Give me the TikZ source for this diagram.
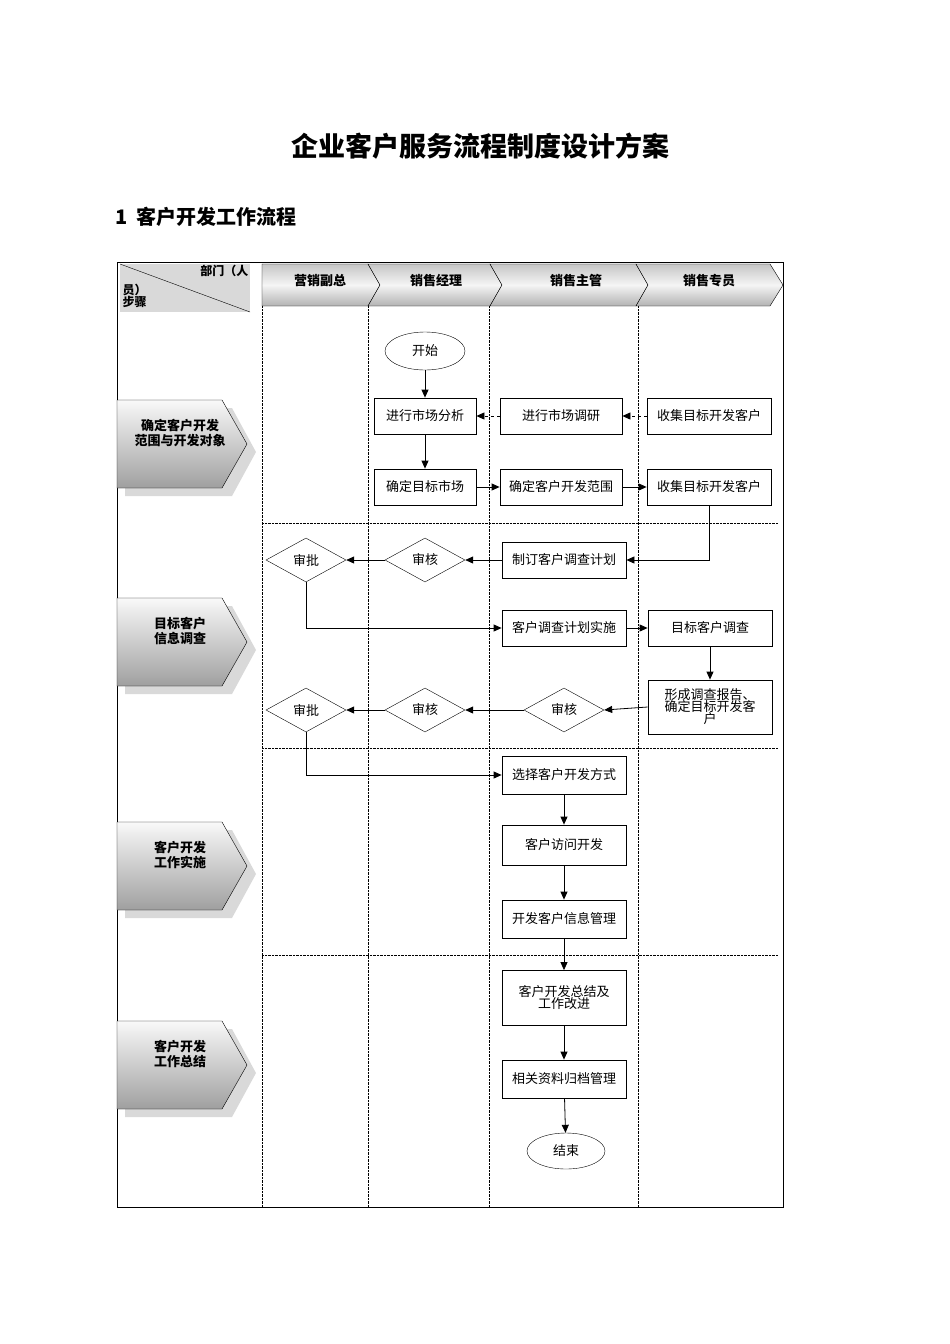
\documentclass[tikz,border=0pt]{standalone}
\usepackage{fontspec}
\setmainfont{Noto Sans CJK SC}
\usetikzlibrary{shapes.geometric,arrows.meta}
\begin{document}
\begin{tikzpicture}[x=1pt,y=-1pt,
  box/.style={draw,thick,minimum width=124pt,minimum height=36pt,inner sep=1pt,font=\fontsize{13}{15}\selectfont,align=center,text width=120pt},
  dia/.style={draw,diamond,aspect=1.8,minimum width=80pt,minimum height=44pt,inner sep=0pt,font=\fontsize{13}{15}\selectfont},
  ell/.style={draw,ellipse,minimum width=80pt,minimum height=38pt,font=\fontsize{13}{15}\selectfont},
  arr/.style={thick,-{Triangle[length=8pt,width=7pt]}},
  dsh/.style={arr,dashed},
  lane/.style={densely dotted,thin},
  hdr/.style={draw,top color=gray!45,bottom color=gray!60,middle color=gray!8},
  stg/.style={draw,top color=gray!5,bottom color=gray!75},
  bf/.style={font=\bfseries\fontsize{13}{15}\selectfont,align=center}]
\useasboundingbox (0,0) rectangle (950,1344);
\node[font=\bfseries\fontsize{27}{30}\selectfont] (title) at (480,146) {企业客户服务流程制度设计方案};
\node[anchor=west,font=\bfseries\fontsize{20}{24}\selectfont] (sec) at (112,217) {1\ \ 客户开发工作流程};
% outer frame
\draw (117,262) rectangle (783,1207);
% corner header
\fill[gray!30] (120,264) rectangle (250,312);
\draw (120,264) -- (250,312);
\node[bf,anchor=north east,font=\bfseries\fontsize{12}{14}\selectfont] (c1) at (252,262) {部门（人};
\node[bf,anchor=north west,align=left,font=\bfseries\fontsize{12}{14}\selectfont] (c2) at (119,281) {员）\\[-2pt]步骤};
% lane headers
\draw[hdr] (262,264) -- (368,264) -- (380,285) -- (368,306) -- (262,306) -- cycle;
\draw[hdr] (368,264) -- (490,264) -- (502,285) -- (490,306) -- (368,306) -- (380,285) -- cycle;
\draw[hdr] (490,264) -- (636,264) -- (648,285) -- (636,306) -- (490,306) -- (502,285) -- cycle;
\draw[hdr] (636,264) -- (770,264) -- (783,285) -- (770,306) -- (636,306) -- (648,285) -- cycle;
\node[bf] (h1) at (320,281) {营销副总};
\node[bf] (h2) at (436,281) {销售经理};
\node[bf] (h3) at (576,281) {销售主管};
\node[bf] (h4) at (709,281) {销售专员};
% lanes
\foreach \x in {262,368,489,638} \draw[lane] (\x,306) -- (\x,1207);
\foreach \y in {523,748,955} \draw[lane] (262,\y) -- (778,\y);
% stage chevrons
\foreach \y/\t [count=\i] in {400/{确定客户开发\\范围与开发对象},598/{目标客户\\信息调查},822/{客户开发\\工作实施},1021/{客户开发\\工作总结}}{
  \fill[gray!30] (125,\y+8) -- (232,\y+8) -- (256,\y+52) -- (232,\y+96) -- (125,\y+96) -- cycle;
  \draw[stg] (117,\y) -- (222,\y) -- (247,\y+44) -- (222,\y+88) -- (117,\y+88) -- cycle;
  \node[bf] (s\i) at (180,\y+33) {\t};
}
% nodes
\node[ell] (start) at (425,351) {开始};
\node[box,minimum width=102pt,text width=100pt] (a1) at (425,416) {进行市场分析};
\node[box,minimum width=122pt,text width=118pt] (a2) at (561,416) {进行市场调研};
\node[box,minimum width=124pt,text width=120pt] (a3) at (709,416) {收集目标开发客户};
\node[box,minimum width=102pt,text width=100pt] (b1) at (425,487) {确定目标市场};
\node[box,minimum width=122pt,text width=118pt] (b2) at (561,487) {确定客户开发范围};
\node[box,minimum width=124pt,text width=120pt] (b3) at (709,487) {收集目标开发客户};
\node[box] (c3) at (564,560) {制订客户调查计划};
\node[dia] (cd2) at (425,560) {审核};
\node[dia] (cd1) at (306,560) {审批};
\node[box] (d3) at (564,628) {客户调查计划实施};
\node[box] (d4) at (710,628) {目标客户调查};
\node[box,minimum height=54pt] (e4) at (710,707) {形成调查报告、\\[-3pt]确定目标开发客\\[-3pt]户};
\node[dia] (ed3) at (564,710) {审核};
\node[dia] (ed2) at (425,710) {审核};
\node[dia] (ed1) at (306,710) {审批};
\node[box,minimum height=38pt] (f1) at (564,775) {选择客户开发方式};
\node[box,minimum height=40pt] (f2) at (564,845) {客户访问开发};
\node[box,minimum height=38pt] (f3) at (564,919) {开发客户信息管理};
\node[box,minimum height=55pt] (g1) at (564,998) {客户开发总结及\\[-3pt]工作改进};
\node[box,minimum height=38pt] (g2) at (564,1079) {相关资料归档管理};
\node[ell,minimum width=78pt,minimum height=36pt] (end) at (566,1151) {结束};
% edges
\draw[arr] (start) -- (a1);
\draw[dsh] (a2) -- (a1);
\draw[dsh] (a3) -- (a2);
\draw[arr] (a1) -- (b1);
\draw[arr] (b1) -- (b2);
\draw[arr] (b2) -- (b3);
\draw[arr] (b3.south) |- (c3.east);
\draw[arr] (c3) -- (cd2);
\draw[arr] (cd2) -- (cd1);
\draw[arr] (cd1.south) |- (d3.west);
\draw[arr] (d3) -- (d4);
\draw[arr] (d4) -- (e4);
\draw[arr] (e4.west) -- (ed3.east);
\draw[arr] (ed3) -- (ed2);
\draw[arr] (ed2) -- (ed1);
\draw[arr] (ed1.south) |- (f1.west);
\draw[arr] (f1) -- (f2);
\draw[arr] (f2) -- (f3);
\draw[arr] (f3) -- (g1);
\draw[arr] (g1) -- (g2);
\draw[arr] (g2) -- (end);
\end{tikzpicture}
\end{document}
